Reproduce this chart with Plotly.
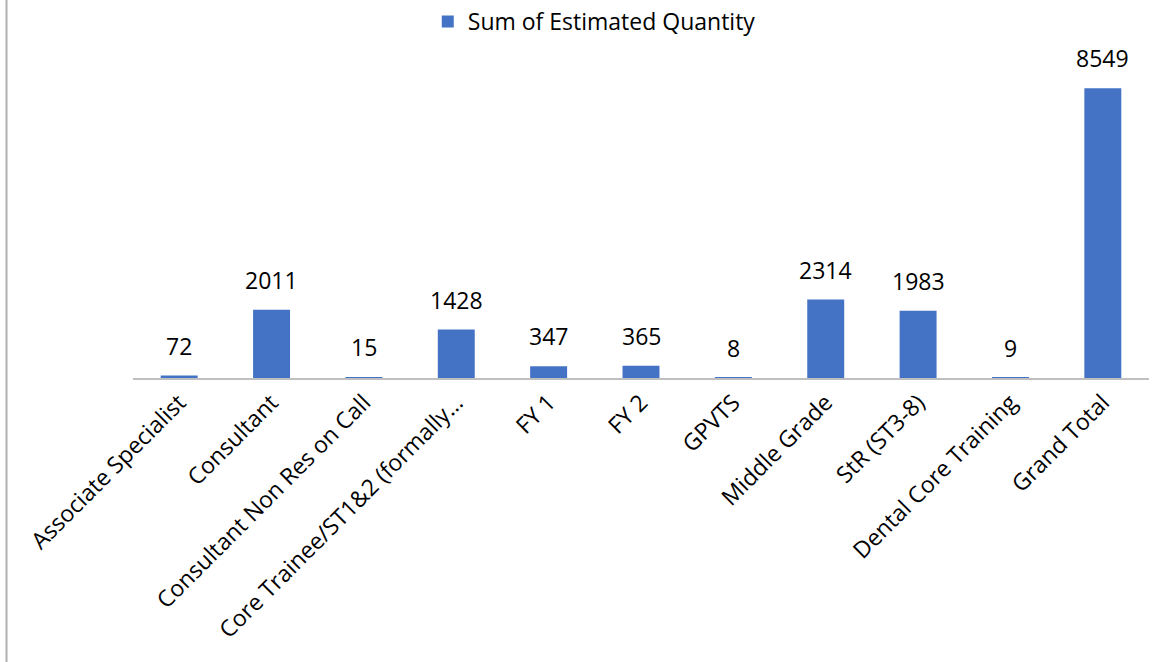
import plotly.graph_objects as go

categories = ["Associate Specialist", "Consultant", "Consultant Non Res on Call",
              "Core Trainee/ST1&2 (formally…", "FY 1", "FY 2", "GPVTS",
              "Middle Grade", "StR (ST3-8)", "Dental Core Training", "Grand Total"]
values = [72, 2011, 15, 1428, 347, 365, 8, 2314, 1983, 9, 8549]
series_name = "Sum of Estimated Quantity"

FONT = "Open Sans, Lato, sans-serif"
BLUE = "#4472C4"

fig = go.Figure()
fig.add_trace(go.Bar(x=categories, y=values, name=series_name,
                     marker=dict(color=BLUE, line=dict(width=0)),
                     showlegend=True))

for c, v in zip(categories, values):
    fig.add_annotation(x=c, y=v, text=str(v), showarrow=False,
                       yanchor="bottom", yshift=12,
                       font=dict(family=FONT, size=23, color="#000000"))

L, R, T, B = 133, 21, 39, 284
W, H = 1170, 662
pw = W - L - R
fig.add_shape(type="line", xref="paper", yref="paper",
              x0=(6.5 - L) / pw, x1=(6.5 - L) / pw, y0=-B / (H - T - B), y1=1 + T / (H - T - B),
              line=dict(color="#B0B0B0", width=2))

fig.update_layout(
    width=W, height=H,
    margin=dict(l=L, r=R, t=T, b=B, autoexpand=False),
    paper_bgcolor="white", plot_bgcolor="white",
    bargap=0.6,
    font=dict(family=FONT, size=20, color="#000000"),
    showlegend=True,
    legend=dict(orientation="h", x=0.454, xanchor="center", y=1.0, yanchor="top",
                yref="container", font=dict(family=FONT, size=23),
                itemwidth=30, tracegroupgap=0),
    xaxis=dict(showline=True, linecolor="#BFBFBF", linewidth=2, ticks="",
               tickangle=-45, tickfont=dict(family=FONT, size=23, color="#000000"),
               showgrid=False, automargin=False),
    yaxis=dict(range=[0, 10000], visible=False, showgrid=False, zeroline=False),
)
fig.write_html("out.html")
